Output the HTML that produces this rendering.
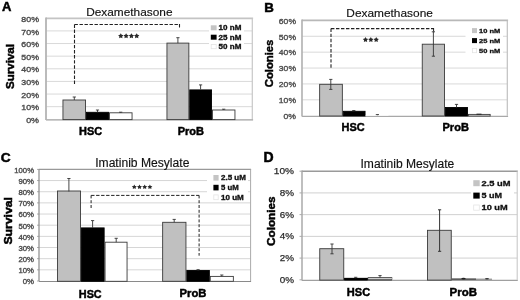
<!DOCTYPE html>
<html><head><meta charset="utf-8"><style>
html,body{margin:0;padding:0;background:#fff;width:520px;height:300px;overflow:hidden}
svg{display:block;font-family:"Liberation Sans", sans-serif;filter:grayscale(1) blur(0.3px)}
</style></head><body>
<svg width="520" height="300" viewBox="0 0 520 300">
<rect width="520" height="300" fill="#fff"/>
<line x1="46.00" y1="106.67" x2="252.30" y2="106.67" stroke="#d9d9d9" stroke-width="1"/>
<line x1="46.00" y1="94.05" x2="252.30" y2="94.05" stroke="#d9d9d9" stroke-width="1"/>
<line x1="46.00" y1="81.42" x2="252.30" y2="81.42" stroke="#d9d9d9" stroke-width="1"/>
<line x1="46.00" y1="68.80" x2="252.30" y2="68.80" stroke="#d9d9d9" stroke-width="1"/>
<line x1="46.00" y1="56.17" x2="252.30" y2="56.17" stroke="#d9d9d9" stroke-width="1"/>
<line x1="46.00" y1="43.55" x2="252.30" y2="43.55" stroke="#d9d9d9" stroke-width="1"/>
<line x1="46.00" y1="30.92" x2="252.30" y2="30.92" stroke="#d9d9d9" stroke-width="1"/>
<line x1="46.00" y1="18.30" x2="253.10" y2="18.30" stroke="#c4c4c4" stroke-width="1.8"/>
<line x1="252.30" y1="18.30" x2="252.30" y2="119.30" stroke="#c8c8c8" stroke-width="1.2"/>
<rect x="209.00" y="22.50" width="35.00" height="29.00" fill="#fff"/>
<rect x="210.80" y="25.30" width="5.80" height="5.00" fill="#c4c4c4"/>
<text x="218.60" y="30.18" font-size="6.6" font-weight="bold" fill="#111" textLength="22.80" lengthAdjust="spacingAndGlyphs" stroke="#111" stroke-width="0.3">10 nM</text>
<rect x="210.80" y="34.70" width="5.80" height="5.00" fill="#000"/>
<text x="218.60" y="39.58" font-size="6.6" font-weight="bold" fill="#111" textLength="22.80" lengthAdjust="spacingAndGlyphs" stroke="#111" stroke-width="0.3">25 nM</text>
<rect x="211.20" y="44.50" width="5.00" height="4.20" fill="#fff" stroke="#e4e4e4" stroke-width="0.8"/>
<text x="218.60" y="48.98" font-size="6.6" font-weight="bold" fill="#111" textLength="22.80" lengthAdjust="spacingAndGlyphs" stroke="#111" stroke-width="0.3">50 nM</text>
<line x1="46.00" y1="119.90" x2="253.10" y2="119.90" stroke="#a0a0a0" stroke-width="1.3"/>
<rect x="62.95" y="100.00" width="22.60" height="19.60" fill="#c0c0c0" stroke="#3a3a3a" stroke-width="0.9"/>
<rect x="86.45" y="112.30" width="22.10" height="7.30" fill="#000" stroke="#000" stroke-width="0.9"/>
<rect x="109.45" y="112.80" width="22.60" height="6.80" fill="#fff" stroke="#3a3a3a" stroke-width="0.9"/>
<rect x="166.95" y="43.10" width="21.90" height="76.50" fill="#c0c0c0" stroke="#3a3a3a" stroke-width="0.9"/>
<rect x="189.75" y="89.90" width="21.80" height="29.70" fill="#000" stroke="#000" stroke-width="0.9"/>
<rect x="212.45" y="110.00" width="22.50" height="9.60" fill="#fff" stroke="#3a3a3a" stroke-width="0.9"/>
<line x1="74.30" y1="97.00" x2="74.30" y2="100.00" stroke="#333" stroke-width="0.9"/>
<line x1="72.70" y1="97.00" x2="75.90" y2="97.00" stroke="#333" stroke-width="0.9"/>
<line x1="97.50" y1="110.00" x2="97.50" y2="112.30" stroke="#333" stroke-width="0.9"/>
<line x1="95.90" y1="110.00" x2="99.10" y2="110.00" stroke="#333" stroke-width="0.9"/>
<line x1="120.70" y1="112.20" x2="120.70" y2="112.80" stroke="#333" stroke-width="0.9"/>
<line x1="119.10" y1="112.20" x2="122.30" y2="112.20" stroke="#333" stroke-width="0.9"/>
<line x1="177.90" y1="37.70" x2="177.90" y2="43.10" stroke="#333" stroke-width="0.9"/>
<line x1="176.30" y1="37.70" x2="179.50" y2="37.70" stroke="#333" stroke-width="0.9"/>
<line x1="200.60" y1="84.90" x2="200.60" y2="89.50" stroke="#333" stroke-width="0.9"/>
<line x1="199.00" y1="84.90" x2="202.20" y2="84.90" stroke="#333" stroke-width="0.9"/>
<line x1="223.70" y1="109.20" x2="223.70" y2="110.00" stroke="#333" stroke-width="0.9"/>
<line x1="222.10" y1="109.20" x2="225.30" y2="109.20" stroke="#333" stroke-width="0.9"/>
<line x1="46.00" y1="17.40" x2="46.00" y2="120.10" stroke="#b4b4b4" stroke-width="1.8"/>
<text x="39.00" y="122.90" font-size="7" text-anchor="end" fill="#505050" textLength="12.84" lengthAdjust="spacingAndGlyphs" stroke="#505050" stroke-width="0.35">0%</text>
<text x="39.00" y="110.27" font-size="7" text-anchor="end" fill="#505050" textLength="17.61" lengthAdjust="spacingAndGlyphs" stroke="#505050" stroke-width="0.35">10%</text>
<text x="39.00" y="97.65" font-size="7" text-anchor="end" fill="#505050" textLength="17.61" lengthAdjust="spacingAndGlyphs" stroke="#505050" stroke-width="0.35">20%</text>
<text x="39.00" y="85.02" font-size="7" text-anchor="end" fill="#505050" textLength="17.61" lengthAdjust="spacingAndGlyphs" stroke="#505050" stroke-width="0.35">30%</text>
<text x="39.00" y="72.40" font-size="7" text-anchor="end" fill="#505050" textLength="17.61" lengthAdjust="spacingAndGlyphs" stroke="#505050" stroke-width="0.35">40%</text>
<text x="39.00" y="59.77" font-size="7" text-anchor="end" fill="#505050" textLength="17.61" lengthAdjust="spacingAndGlyphs" stroke="#505050" stroke-width="0.35">50%</text>
<text x="39.00" y="47.15" font-size="7" text-anchor="end" fill="#505050" textLength="17.61" lengthAdjust="spacingAndGlyphs" stroke="#505050" stroke-width="0.35">60%</text>
<text x="39.00" y="34.52" font-size="7" text-anchor="end" fill="#505050" textLength="17.61" lengthAdjust="spacingAndGlyphs" stroke="#505050" stroke-width="0.35">70%</text>
<text x="39.00" y="21.90" font-size="7" text-anchor="end" fill="#505050" textLength="17.61" lengthAdjust="spacingAndGlyphs" stroke="#505050" stroke-width="0.35">80%</text>
<line x1="74.50" y1="24.50" x2="179.50" y2="24.50" stroke="#222" stroke-width="1.1" stroke-dasharray="3.4,1.6"/>
<line x1="74.50" y1="24.50" x2="74.50" y2="84.00" stroke="#222" stroke-width="1.1" stroke-dasharray="3.4,1.7"/>
<line x1="179.50" y1="24.00" x2="179.50" y2="27.50" stroke="#222" stroke-width="1.1"/>
<polygon points="120.80,33.20 121.66,34.82 123.46,35.13 122.18,36.45 122.45,38.27 120.80,37.46 119.15,38.27 119.42,36.45 118.14,35.13 119.94,34.82" fill="#2a2a2a"/>
<polygon points="126.10,33.20 126.96,34.82 128.76,35.13 127.48,36.45 127.75,38.27 126.10,37.46 124.45,38.27 124.72,36.45 123.44,35.13 125.24,34.82" fill="#2a2a2a"/>
<polygon points="131.40,33.20 132.26,34.82 134.06,35.13 132.78,36.45 133.05,38.27 131.40,37.46 129.75,38.27 130.02,36.45 128.74,35.13 130.54,34.82" fill="#2a2a2a"/>
<polygon points="136.70,33.20 137.56,34.82 139.36,35.13 138.08,36.45 138.35,38.27 136.70,37.46 135.05,38.27 135.32,36.45 134.04,35.13 135.84,34.82" fill="#2a2a2a"/>
<text x="86.20" y="15.80" font-size="11.8" fill="#111" textLength="86.30" lengthAdjust="spacingAndGlyphs" stroke="#111" stroke-width="0.15">Dexamethasone</text>
<text x="2.10" y="10.90" font-size="13" font-weight="bold" fill="#000" stroke="#000" stroke-width="0.5">A</text>
<text x="14.00" y="66.50" font-size="11" text-anchor="middle" font-weight="bold" fill="#000" textLength="45.00" lengthAdjust="spacingAndGlyphs" transform="rotate(-90 14 66.5)" stroke="#000" stroke-width="0.45">Survival</text>
<text x="79.10" y="135.30" font-size="10.8" font-weight="bold" fill="#000" textLength="23.10" lengthAdjust="spacingAndGlyphs" stroke="#000" stroke-width="0.45">HSC</text>
<text x="177.70" y="135.10" font-size="10.8" font-weight="bold" fill="#000" textLength="26.40" lengthAdjust="spacingAndGlyphs" stroke="#000" stroke-width="0.45">ProB</text>
<line x1="302.00" y1="99.82" x2="507.30" y2="99.82" stroke="#d9d9d9" stroke-width="1"/>
<line x1="302.00" y1="83.93" x2="507.30" y2="83.93" stroke="#d9d9d9" stroke-width="1"/>
<line x1="302.00" y1="68.05" x2="507.30" y2="68.05" stroke="#d9d9d9" stroke-width="1"/>
<line x1="302.00" y1="52.17" x2="507.30" y2="52.17" stroke="#d9d9d9" stroke-width="1"/>
<line x1="302.00" y1="36.28" x2="507.30" y2="36.28" stroke="#d9d9d9" stroke-width="1"/>
<line x1="302.00" y1="20.40" x2="508.10" y2="20.40" stroke="#b8b8b8" stroke-width="1.6"/>
<line x1="507.30" y1="20.40" x2="507.30" y2="115.70" stroke="#c0c0c0" stroke-width="1.2"/>
<rect x="465.50" y="25.00" width="37.50" height="30.00" fill="#fff"/>
<rect x="472.00" y="28.10" width="5.00" height="5.00" fill="#c4c4c4"/>
<text x="479.00" y="32.83" font-size="6.2" font-weight="bold" fill="#111" textLength="21.20" lengthAdjust="spacingAndGlyphs" stroke="#111" stroke-width="0.3">10 nM</text>
<rect x="472.00" y="38.10" width="5.00" height="5.00" fill="#000"/>
<text x="479.00" y="42.83" font-size="6.2" font-weight="bold" fill="#111" textLength="21.20" lengthAdjust="spacingAndGlyphs" stroke="#111" stroke-width="0.3">25 nM</text>
<rect x="472.40" y="48.50" width="4.20" height="4.20" fill="#fff" stroke="#e4e4e4" stroke-width="0.8"/>
<text x="479.00" y="52.83" font-size="6.2" font-weight="bold" fill="#111" textLength="21.20" lengthAdjust="spacingAndGlyphs" stroke="#111" stroke-width="0.3">50 nM</text>
<line x1="302.00" y1="116.30" x2="508.10" y2="116.30" stroke="#a8a8a8" stroke-width="1.3"/>
<rect x="319.65" y="84.30" width="22.70" height="31.70" fill="#c0c0c0" stroke="#3a3a3a" stroke-width="0.9"/>
<rect x="343.25" y="111.30" width="21.80" height="4.70" fill="#000" stroke="#000" stroke-width="0.9"/>
<rect x="365.50" y="115.10" width="23.00" height="0.60" fill="#fff"/>
<rect x="422.25" y="44.20" width="22.30" height="71.80" fill="#c0c0c0" stroke="#3a3a3a" stroke-width="0.9"/>
<rect x="445.45" y="107.50" width="22.00" height="8.50" fill="#000" stroke="#000" stroke-width="0.9"/>
<rect x="468.35" y="114.40" width="21.80" height="1.60" fill="#fff" stroke="#3a3a3a" stroke-width="0.9"/>
<line x1="330.80" y1="79.40" x2="330.80" y2="89.40" stroke="#333" stroke-width="0.9"/>
<line x1="329.20" y1="79.40" x2="332.40" y2="79.40" stroke="#333" stroke-width="0.9"/>
<line x1="329.20" y1="89.40" x2="332.40" y2="89.40" stroke="#333" stroke-width="0.9"/>
<line x1="353.80" y1="110.50" x2="353.80" y2="111.30" stroke="#333" stroke-width="0.9"/>
<line x1="352.20" y1="110.50" x2="355.40" y2="110.50" stroke="#333" stroke-width="0.9"/>
<line x1="377.40" y1="114.60" x2="377.40" y2="115.20" stroke="#333" stroke-width="0.9"/>
<line x1="375.80" y1="114.60" x2="379.00" y2="114.60" stroke="#333" stroke-width="0.9"/>
<line x1="433.40" y1="31.80" x2="433.40" y2="56.20" stroke="#333" stroke-width="0.9"/>
<line x1="431.80" y1="31.80" x2="435.00" y2="31.80" stroke="#333" stroke-width="0.9"/>
<line x1="431.80" y1="56.20" x2="435.00" y2="56.20" stroke="#333" stroke-width="0.9"/>
<line x1="456.50" y1="104.40" x2="456.50" y2="107.50" stroke="#333" stroke-width="0.9"/>
<line x1="454.90" y1="104.40" x2="458.10" y2="104.40" stroke="#333" stroke-width="0.9"/>
<line x1="476.50" y1="114.20" x2="481.50" y2="114.20" stroke="#222" stroke-width="1.0"/>
<line x1="302.00" y1="19.60" x2="302.00" y2="116.50" stroke="#b0b0b0" stroke-width="1.6"/>
<text x="296.00" y="119.00" font-size="7" text-anchor="end" fill="#505050" textLength="12.50" lengthAdjust="spacingAndGlyphs" stroke="#505050" stroke-width="0.35">0%</text>
<text x="296.00" y="103.12" font-size="7" text-anchor="end" fill="#505050" textLength="17.14" lengthAdjust="spacingAndGlyphs" stroke="#505050" stroke-width="0.35">10%</text>
<text x="296.00" y="87.23" font-size="7" text-anchor="end" fill="#505050" textLength="17.14" lengthAdjust="spacingAndGlyphs" stroke="#505050" stroke-width="0.35">20%</text>
<text x="296.00" y="71.35" font-size="7" text-anchor="end" fill="#505050" textLength="17.14" lengthAdjust="spacingAndGlyphs" stroke="#505050" stroke-width="0.35">30%</text>
<text x="296.00" y="55.47" font-size="7" text-anchor="end" fill="#505050" textLength="17.14" lengthAdjust="spacingAndGlyphs" stroke="#505050" stroke-width="0.35">40%</text>
<text x="296.00" y="39.58" font-size="7" text-anchor="end" fill="#505050" textLength="17.14" lengthAdjust="spacingAndGlyphs" stroke="#505050" stroke-width="0.35">50%</text>
<text x="296.00" y="23.70" font-size="7" text-anchor="end" fill="#505050" textLength="17.14" lengthAdjust="spacingAndGlyphs" stroke="#505050" stroke-width="0.35">60%</text>
<line x1="331.00" y1="28.60" x2="434.00" y2="28.60" stroke="#222" stroke-width="1.1" stroke-dasharray="3.4,1.6"/>
<line x1="331.00" y1="28.60" x2="331.00" y2="68.00" stroke="#222" stroke-width="1.1" stroke-dasharray="3.4,1.7"/>
<line x1="433.60" y1="28.20" x2="433.60" y2="31.50" stroke="#222" stroke-width="1.0"/>
<polygon points="365.50,37.00 366.36,38.62 368.16,38.93 366.88,40.25 367.15,42.07 365.50,41.26 363.85,42.07 364.12,40.25 362.84,38.93 364.64,38.62" fill="#2a2a2a"/>
<polygon points="370.85,37.00 371.71,38.62 373.51,38.93 372.23,40.25 372.50,42.07 370.85,41.26 369.20,42.07 369.47,40.25 368.19,38.93 369.99,38.62" fill="#2a2a2a"/>
<polygon points="376.20,37.00 377.06,38.62 378.86,38.93 377.58,40.25 377.85,42.07 376.20,41.26 374.55,42.07 374.82,40.25 373.54,38.93 375.34,38.62" fill="#2a2a2a"/>
<text x="346.30" y="17.10" font-size="11.8" fill="#111" textLength="86.60" lengthAdjust="spacingAndGlyphs" stroke="#111" stroke-width="0.15">Dexamethasone</text>
<text x="264.20" y="11.50" font-size="13.3" font-weight="bold" fill="#000" stroke="#000" stroke-width="0.5">B</text>
<text x="273.00" y="63.40" font-size="11" text-anchor="middle" font-weight="bold" fill="#000" textLength="47.60" lengthAdjust="spacingAndGlyphs" transform="rotate(-90 273 63.4)" stroke="#000" stroke-width="0.45">Colonies</text>
<text x="341.50" y="130.80" font-size="10.8" font-weight="bold" fill="#000" textLength="23.10" lengthAdjust="spacingAndGlyphs" stroke="#000" stroke-width="0.45">HSC</text>
<text x="442.50" y="130.60" font-size="10.8" font-weight="bold" fill="#000" textLength="26.40" lengthAdjust="spacingAndGlyphs" stroke="#000" stroke-width="0.45">ProB</text>
<line x1="39.00" y1="269.84" x2="250.60" y2="269.84" stroke="#d6d6d6" stroke-width="1"/>
<line x1="39.00" y1="258.68" x2="250.60" y2="258.68" stroke="#d6d6d6" stroke-width="1"/>
<line x1="39.00" y1="247.52" x2="250.60" y2="247.52" stroke="#d6d6d6" stroke-width="1"/>
<line x1="39.00" y1="236.36" x2="250.60" y2="236.36" stroke="#d6d6d6" stroke-width="1"/>
<line x1="39.00" y1="225.20" x2="250.60" y2="225.20" stroke="#d6d6d6" stroke-width="1"/>
<line x1="39.00" y1="214.04" x2="250.60" y2="214.04" stroke="#d6d6d6" stroke-width="1"/>
<line x1="39.00" y1="202.88" x2="250.60" y2="202.88" stroke="#d6d6d6" stroke-width="1"/>
<line x1="39.00" y1="191.72" x2="250.60" y2="191.72" stroke="#d6d6d6" stroke-width="1"/>
<line x1="39.00" y1="180.56" x2="250.60" y2="180.56" stroke="#d6d6d6" stroke-width="1"/>
<line x1="39.00" y1="169.40" x2="251.10" y2="169.40" stroke="#999" stroke-width="1.1"/>
<line x1="250.60" y1="169.40" x2="250.60" y2="281.00" stroke="#aaa" stroke-width="1.0"/>
<rect x="207.00" y="172.00" width="41.00" height="29.00" fill="#fff"/>
<rect x="213.40" y="175.00" width="5.20" height="5.60" fill="#c4c4c4"/>
<text x="221.00" y="180.18" font-size="6.6" font-weight="bold" fill="#111" textLength="24.90" lengthAdjust="spacingAndGlyphs" stroke="#111" stroke-width="0.3">2.5 uM</text>
<rect x="213.40" y="184.80" width="5.20" height="5.60" fill="#000"/>
<text x="221.00" y="189.98" font-size="6.6" font-weight="bold" fill="#111" textLength="17.70" lengthAdjust="spacingAndGlyphs" stroke="#111" stroke-width="0.3">5 uM</text>
<rect x="213.80" y="194.90" width="4.40" height="4.80" fill="#fff" stroke="#e4e4e4" stroke-width="0.8"/>
<text x="221.00" y="199.68" font-size="6.6" font-weight="bold" fill="#111" textLength="22.80" lengthAdjust="spacingAndGlyphs" stroke="#111" stroke-width="0.3">10 uM</text>
<line x1="39.00" y1="281.50" x2="251.10" y2="281.50" stroke="#8a8a8a" stroke-width="1.2"/>
<rect x="57.45" y="191.00" width="23.10" height="90.30" fill="#c0c0c0" stroke="#3a3a3a" stroke-width="0.9"/>
<rect x="81.45" y="227.90" width="22.70" height="53.40" fill="#000" stroke="#000" stroke-width="0.9"/>
<rect x="105.05" y="242.20" width="22.00" height="39.10" fill="#fff" stroke="#3a3a3a" stroke-width="0.9"/>
<rect x="162.65" y="222.30" width="23.30" height="59.00" fill="#c0c0c0" stroke="#3a3a3a" stroke-width="0.9"/>
<rect x="186.85" y="270.50" width="22.50" height="10.80" fill="#000" stroke="#000" stroke-width="0.9"/>
<rect x="210.25" y="276.40" width="23.10" height="4.90" fill="#fff" stroke="#3a3a3a" stroke-width="0.9"/>
<line x1="68.90" y1="178.50" x2="68.90" y2="191.50" stroke="#333" stroke-width="0.9"/>
<line x1="67.30" y1="178.50" x2="70.50" y2="178.50" stroke="#333" stroke-width="0.9"/>
<line x1="92.60" y1="220.60" x2="92.60" y2="227.90" stroke="#333" stroke-width="0.9"/>
<line x1="91.00" y1="220.60" x2="94.20" y2="220.60" stroke="#333" stroke-width="0.9"/>
<line x1="116.20" y1="238.30" x2="116.20" y2="242.20" stroke="#333" stroke-width="0.9"/>
<line x1="114.60" y1="238.30" x2="117.80" y2="238.30" stroke="#333" stroke-width="0.9"/>
<line x1="174.20" y1="219.40" x2="174.20" y2="222.30" stroke="#333" stroke-width="0.9"/>
<line x1="172.60" y1="219.40" x2="175.80" y2="219.40" stroke="#333" stroke-width="0.9"/>
<line x1="198.10" y1="269.70" x2="198.10" y2="270.50" stroke="#333" stroke-width="0.9"/>
<line x1="196.50" y1="269.70" x2="199.70" y2="269.70" stroke="#333" stroke-width="0.9"/>
<line x1="221.80" y1="275.00" x2="221.80" y2="276.40" stroke="#333" stroke-width="0.9"/>
<line x1="220.20" y1="275.00" x2="223.40" y2="275.00" stroke="#333" stroke-width="0.9"/>
<line x1="39.00" y1="169.40" x2="39.00" y2="281.00" stroke="#8a8a8a" stroke-width="1.2"/>
<line x1="37.20" y1="281.00" x2="39.00" y2="281.00" stroke="#999" stroke-width="1.0"/>
<line x1="37.20" y1="269.84" x2="39.00" y2="269.84" stroke="#999" stroke-width="1.0"/>
<line x1="37.20" y1="258.68" x2="39.00" y2="258.68" stroke="#999" stroke-width="1.0"/>
<line x1="37.20" y1="247.52" x2="39.00" y2="247.52" stroke="#999" stroke-width="1.0"/>
<line x1="37.20" y1="236.36" x2="39.00" y2="236.36" stroke="#999" stroke-width="1.0"/>
<line x1="37.20" y1="225.20" x2="39.00" y2="225.20" stroke="#999" stroke-width="1.0"/>
<line x1="37.20" y1="214.04" x2="39.00" y2="214.04" stroke="#999" stroke-width="1.0"/>
<line x1="37.20" y1="202.88" x2="39.00" y2="202.88" stroke="#999" stroke-width="1.0"/>
<line x1="37.20" y1="191.72" x2="39.00" y2="191.72" stroke="#999" stroke-width="1.0"/>
<line x1="37.20" y1="180.56" x2="39.00" y2="180.56" stroke="#999" stroke-width="1.0"/>
<line x1="37.20" y1="169.40" x2="39.00" y2="169.40" stroke="#999" stroke-width="1.0"/>
<text x="34.00" y="284.30" font-size="6.6" text-anchor="end" fill="#505050" textLength="11.30" lengthAdjust="spacingAndGlyphs" stroke="#505050" stroke-width="0.35">0%</text>
<text x="34.00" y="273.14" font-size="6.6" text-anchor="end" fill="#505050" textLength="15.50" lengthAdjust="spacingAndGlyphs" stroke="#505050" stroke-width="0.35">10%</text>
<text x="34.00" y="261.98" font-size="6.6" text-anchor="end" fill="#505050" textLength="15.50" lengthAdjust="spacingAndGlyphs" stroke="#505050" stroke-width="0.35">20%</text>
<text x="34.00" y="250.82" font-size="6.6" text-anchor="end" fill="#505050" textLength="15.50" lengthAdjust="spacingAndGlyphs" stroke="#505050" stroke-width="0.35">30%</text>
<text x="34.00" y="239.66" font-size="6.6" text-anchor="end" fill="#505050" textLength="15.50" lengthAdjust="spacingAndGlyphs" stroke="#505050" stroke-width="0.35">40%</text>
<text x="34.00" y="228.50" font-size="6.6" text-anchor="end" fill="#505050" textLength="15.50" lengthAdjust="spacingAndGlyphs" stroke="#505050" stroke-width="0.35">50%</text>
<text x="34.00" y="217.34" font-size="6.6" text-anchor="end" fill="#505050" textLength="15.50" lengthAdjust="spacingAndGlyphs" stroke="#505050" stroke-width="0.35">60%</text>
<text x="34.00" y="206.18" font-size="6.6" text-anchor="end" fill="#505050" textLength="15.50" lengthAdjust="spacingAndGlyphs" stroke="#505050" stroke-width="0.35">70%</text>
<text x="34.00" y="195.02" font-size="6.6" text-anchor="end" fill="#505050" textLength="15.50" lengthAdjust="spacingAndGlyphs" stroke="#505050" stroke-width="0.35">80%</text>
<text x="34.00" y="183.86" font-size="6.6" text-anchor="end" fill="#505050" textLength="15.50" lengthAdjust="spacingAndGlyphs" stroke="#505050" stroke-width="0.35">90%</text>
<text x="34.00" y="172.70" font-size="6.6" text-anchor="end" fill="#505050" textLength="19.69" lengthAdjust="spacingAndGlyphs" stroke="#505050" stroke-width="0.35">100%</text>
<line x1="91.10" y1="195.40" x2="199.10" y2="195.40" stroke="#222" stroke-width="1.0" stroke-dasharray="3.4,1.6"/>
<line x1="91.10" y1="195.40" x2="91.10" y2="209.50" stroke="#222" stroke-width="1.0" stroke-dasharray="3,1.8"/>
<line x1="199.10" y1="195.40" x2="199.10" y2="255.70" stroke="#222" stroke-width="1.0" stroke-dasharray="3,1.8"/>
<polygon points="134.30,184.40 135.09,185.91 136.77,186.20 135.59,187.42 135.83,189.10 134.30,188.35 132.77,189.10 133.01,187.42 131.83,186.20 133.51,185.91" fill="#2a2a2a"/>
<polygon points="139.50,184.40 140.29,185.91 141.97,186.20 140.79,187.42 141.03,189.10 139.50,188.35 137.97,189.10 138.21,187.42 137.03,186.20 138.71,185.91" fill="#2a2a2a"/>
<polygon points="144.70,184.40 145.49,185.91 147.17,186.20 145.99,187.42 146.23,189.10 144.70,188.35 143.17,189.10 143.41,187.42 142.23,186.20 143.91,185.91" fill="#2a2a2a"/>
<polygon points="149.90,184.40 150.69,185.91 152.37,186.20 151.19,187.42 151.43,189.10 149.90,188.35 148.37,189.10 148.61,187.42 147.43,186.20 149.11,185.91" fill="#2a2a2a"/>
<text x="95.20" y="166.60" font-size="12" fill="#111" textLength="94.20" lengthAdjust="spacingAndGlyphs" stroke="#111" stroke-width="0.15">Imatinib Mesylate</text>
<text x="0.70" y="162.30" font-size="13.7" font-weight="bold" fill="#000" stroke="#000" stroke-width="0.5">C</text>
<text x="11.60" y="220.80" font-size="11.5" text-anchor="middle" font-weight="bold" fill="#000" textLength="47.60" lengthAdjust="spacingAndGlyphs" transform="rotate(-90 11.6 220.8)" stroke="#000" stroke-width="0.5">Survival</text>
<text x="78.80" y="297.60" font-size="10.3" font-weight="bold" fill="#000" textLength="22.90" lengthAdjust="spacingAndGlyphs" stroke="#000" stroke-width="0.45">HSC</text>
<text x="179.60" y="297.30" font-size="10.3" font-weight="bold" fill="#000" textLength="26.90" lengthAdjust="spacingAndGlyphs" stroke="#000" stroke-width="0.45">ProB</text>
<line x1="302.00" y1="258.08" x2="517.20" y2="258.08" stroke="#d0d0d0" stroke-width="1"/>
<line x1="302.00" y1="236.36" x2="517.20" y2="236.36" stroke="#d0d0d0" stroke-width="1"/>
<line x1="302.00" y1="214.64" x2="517.20" y2="214.64" stroke="#d0d0d0" stroke-width="1"/>
<line x1="302.00" y1="192.92" x2="517.20" y2="192.92" stroke="#d0d0d0" stroke-width="1"/>
<line x1="302.00" y1="171.20" x2="517.80" y2="171.20" stroke="#9a9a9a" stroke-width="1.5"/>
<line x1="517.20" y1="171.20" x2="517.20" y2="279.80" stroke="#c8c8c8" stroke-width="1.1"/>
<rect x="471.00" y="176.00" width="43.00" height="37.00" fill="#fff"/>
<rect x="473.30" y="180.20" width="6.40" height="6.00" fill="#c4c4c4"/>
<text x="481.50" y="186.01" font-size="7.8" font-weight="bold" fill="#111" textLength="29.00" lengthAdjust="spacingAndGlyphs" stroke="#111" stroke-width="0.3">2.5 uM</text>
<rect x="473.30" y="192.60" width="6.40" height="6.00" fill="#000"/>
<text x="481.50" y="198.41" font-size="7.8" font-weight="bold" fill="#111" textLength="20.60" lengthAdjust="spacingAndGlyphs" stroke="#111" stroke-width="0.3">5 uM</text>
<rect x="473.70" y="205.00" width="5.60" height="5.20" fill="#fff" stroke="#e4e4e4" stroke-width="0.8"/>
<text x="481.50" y="210.41" font-size="7.8" font-weight="bold" fill="#111" textLength="26.20" lengthAdjust="spacingAndGlyphs" stroke="#111" stroke-width="0.3">10 uM</text>
<line x1="302.00" y1="280.30" x2="517.80" y2="280.30" stroke="#a0a0a0" stroke-width="1.3"/>
<rect x="319.75" y="248.70" width="24.00" height="31.40" fill="#c0c0c0" stroke="#3a3a3a" stroke-width="0.9"/>
<rect x="344.65" y="278.30" width="22.70" height="1.80" fill="#000" stroke="#000" stroke-width="0.9"/>
<rect x="368.25" y="277.60" width="23.20" height="2.50" fill="#fff" stroke="#3a3a3a" stroke-width="0.9"/>
<rect x="427.45" y="230.30" width="23.80" height="49.80" fill="#c0c0c0" stroke="#3a3a3a" stroke-width="0.9"/>
<line x1="344.20" y1="279.00" x2="367.80" y2="279.00" stroke="#000" stroke-width="1.4"/>
<rect x="368.30" y="277.60" width="23.60" height="1.90" fill="#ccc" stroke="#555" stroke-width="0.8"/>
<line x1="451.70" y1="279.10" x2="476.00" y2="279.10" stroke="#222" stroke-width="1.2"/>
<ellipse cx="463.5" cy="278.6" rx="2.2" ry="0.9" fill="#222"/>
<line x1="476.00" y1="279.20" x2="492.00" y2="279.20" stroke="#777" stroke-width="1.0"/>
<ellipse cx="487" cy="278.8" rx="2" ry="0.8" fill="#333"/>
<line x1="332.00" y1="244.00" x2="332.00" y2="253.80" stroke="#333" stroke-width="0.9"/>
<line x1="330.40" y1="244.00" x2="333.60" y2="244.00" stroke="#333" stroke-width="0.9"/>
<line x1="330.40" y1="253.80" x2="333.60" y2="253.80" stroke="#333" stroke-width="0.9"/>
<line x1="355.70" y1="277.30" x2="355.70" y2="278.30" stroke="#333" stroke-width="0.9"/>
<line x1="354.10" y1="277.30" x2="357.30" y2="277.30" stroke="#333" stroke-width="0.9"/>
<line x1="380.00" y1="275.60" x2="380.00" y2="277.60" stroke="#333" stroke-width="0.9"/>
<line x1="378.40" y1="275.60" x2="381.60" y2="275.60" stroke="#333" stroke-width="0.9"/>
<line x1="439.60" y1="209.80" x2="439.60" y2="251.30" stroke="#333" stroke-width="1.0"/>
<line x1="438.00" y1="209.80" x2="441.20" y2="209.80" stroke="#333" stroke-width="1.0"/>
<line x1="438.00" y1="251.30" x2="441.20" y2="251.30" stroke="#333" stroke-width="1.0"/>
<line x1="302.00" y1="170.50" x2="302.00" y2="280.40" stroke="#a4a4a4" stroke-width="1.4"/>
<line x1="299.50" y1="279.80" x2="302.00" y2="279.80" stroke="#aaa" stroke-width="1.0"/>
<line x1="299.50" y1="258.08" x2="302.00" y2="258.08" stroke="#aaa" stroke-width="1.0"/>
<line x1="299.50" y1="236.36" x2="302.00" y2="236.36" stroke="#aaa" stroke-width="1.0"/>
<line x1="299.50" y1="214.64" x2="302.00" y2="214.64" stroke="#aaa" stroke-width="1.0"/>
<line x1="299.50" y1="192.92" x2="302.00" y2="192.92" stroke="#aaa" stroke-width="1.0"/>
<line x1="299.50" y1="171.20" x2="302.00" y2="171.20" stroke="#aaa" stroke-width="1.0"/>
<text x="294.00" y="282.80" font-size="9.8" text-anchor="end" fill="#2a2a2a" textLength="14.30" lengthAdjust="spacingAndGlyphs" stroke="#2a2a2a" stroke-width="0.25">0%</text>
<text x="294.00" y="261.08" font-size="9.8" text-anchor="end" fill="#2a2a2a" textLength="14.30" lengthAdjust="spacingAndGlyphs" stroke="#2a2a2a" stroke-width="0.25">2%</text>
<text x="294.00" y="239.36" font-size="9.8" text-anchor="end" fill="#2a2a2a" textLength="14.30" lengthAdjust="spacingAndGlyphs" stroke="#2a2a2a" stroke-width="0.25">4%</text>
<text x="294.00" y="217.64" font-size="9.8" text-anchor="end" fill="#2a2a2a" textLength="14.30" lengthAdjust="spacingAndGlyphs" stroke="#2a2a2a" stroke-width="0.25">6%</text>
<text x="294.00" y="195.92" font-size="9.8" text-anchor="end" fill="#2a2a2a" textLength="14.30" lengthAdjust="spacingAndGlyphs" stroke="#2a2a2a" stroke-width="0.25">8%</text>
<text x="294.00" y="174.20" font-size="9.8" text-anchor="end" fill="#2a2a2a" textLength="20.23" lengthAdjust="spacingAndGlyphs" stroke="#2a2a2a" stroke-width="0.25">10%</text>
<text x="360.50" y="168.40" font-size="12" fill="#111" textLength="93.80" lengthAdjust="spacingAndGlyphs" stroke="#111" stroke-width="0.15">Imatinib Mesylate</text>
<text x="263.50" y="162.30" font-size="14" font-weight="bold" fill="#000" stroke="#000" stroke-width="0.5">D</text>
<text x="275.00" y="221.20" font-size="10.5" text-anchor="middle" font-weight="bold" fill="#000" textLength="49.50" lengthAdjust="spacingAndGlyphs" transform="rotate(-90 275 221.2)" stroke="#000" stroke-width="0.45">Colonies</text>
<text x="346.80" y="295.70" font-size="10.5" font-weight="bold" fill="#000" textLength="23.30" lengthAdjust="spacingAndGlyphs" stroke="#000" stroke-width="0.45">HSC</text>
<text x="449.60" y="295.70" font-size="10.5" font-weight="bold" fill="#000" textLength="27.40" lengthAdjust="spacingAndGlyphs" stroke="#000" stroke-width="0.45">ProB</text>
</svg>
</body></html>
